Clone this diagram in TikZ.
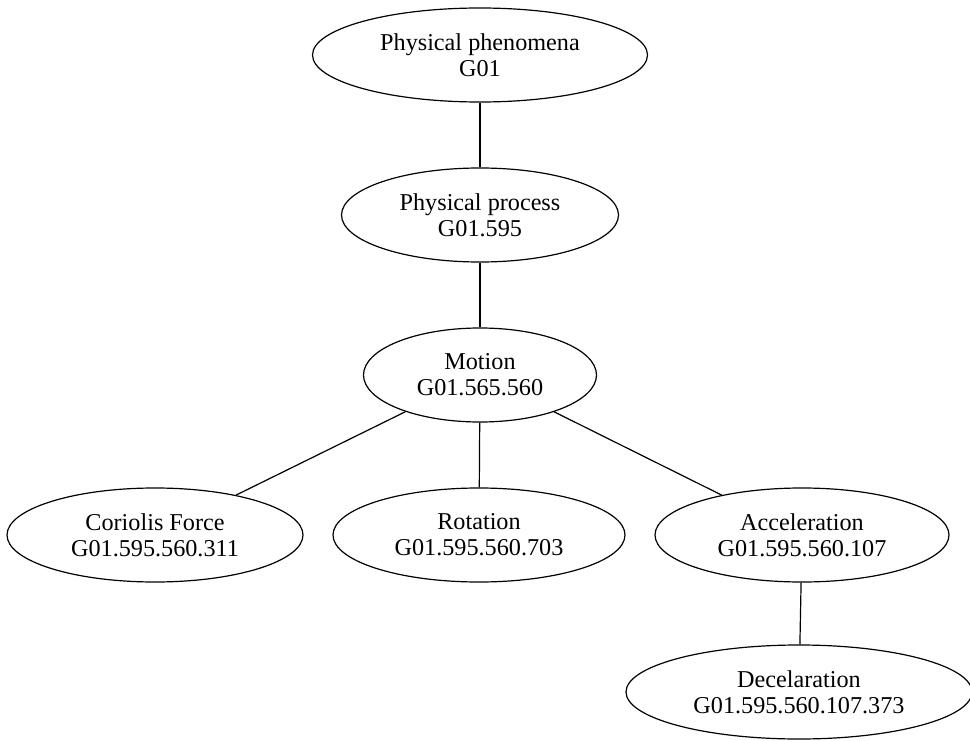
\documentclass[tikz,border=0pt]{standalone}
\usepackage{fontspec}
\setmainfont{Liberation Serif}
\usetikzlibrary{shapes.geometric}
\begin{document}
\begin{tikzpicture}[x=1pt,y=-1pt,
  term/.style={ellipse, draw, line width=1.2pt, inner sep=0pt, align=center,
    minimum height=94pt, font=\fontsize{24.2}{26}\selectfont},
  link/.style={line width=1.2pt}]
\useasboundingbox (0,0) rectangle (970,741);
\node[term, minimum width=335pt] (phen) at (480,55) {Physical phenomena\\G01};
\node[term, minimum width=277pt] (proc) at (480,215) {Physical process\\G01.595};
\node[term, minimum width=233pt] (motion) at (480,375) {Motion\\G01.565.560};
\node[term, minimum width=296pt] (cor) at (155,535) {Coriolis Force\\G01.595.560.311};
\node[term, minimum width=292pt] (rot) at (479,535) {Rotation\\G01.595.560.703};
\node[term, minimum width=294pt] (acc) at (802,535) {Acceleration\\G01.595.560.107};
\node[term, minimum width=346pt] (dec) at (799,692) {Decelaration\\G01.595.560.107.373};
\draw[link] (phen) -- (proc);
\draw[link] (proc) -- (motion);
\draw[link] (motion) -- (cor);
\draw[link] (motion) -- (rot);
\draw[link] (motion) -- (acc);
\draw[link] (acc) -- (dec);
\end{tikzpicture}
\end{document}
